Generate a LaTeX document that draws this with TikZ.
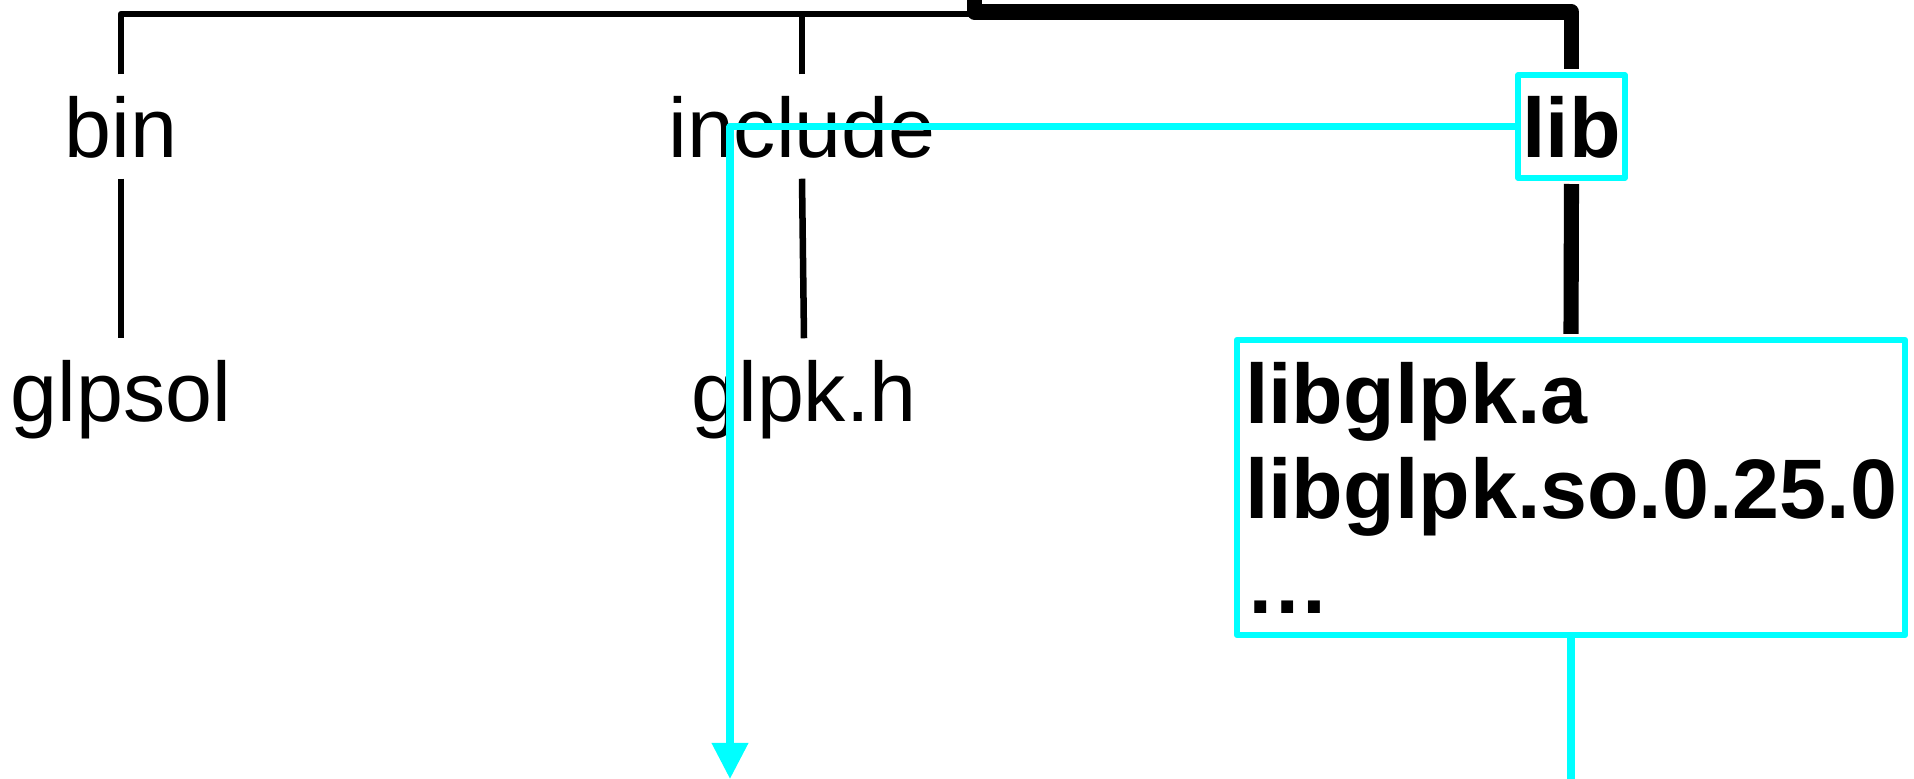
\documentclass[tikz,border=0pt]{standalone}
\usepackage{fontspec}
\setmainfont{Liberation Sans}
\usepackage{tikz}
\usetikzlibrary{arrows.meta}
\definecolor{linkcyan}{RGB}{0,255,255}

\begin{document}
\begin{tikzpicture}[x=.01cm,y=-.01cm,line join=round,
    dirname/.style={font=\fontsize{24}{27}\selectfont,text height=.61cm,
      text depth=0pt,inner xsep=.04cm,inner ysep=.21cm},
    dirbox/.style={dirname,draw=linkcyan,line width=1.7pt,font=\fontsize{24}{27}\selectfont\bfseries},
    filebox/.style={draw=linkcyan,line width=1.7pt,align=left,inner sep=0pt,
      font=\fontsize{24}{27}\selectfont\bfseries,minimum width=6.68cm,minimum height=2.95cm},
    branch/.style={line width=1.85pt},
    mainbranch/.style={line width=4.3pt},
    linkline/.style={linkcyan,line width=2pt}]
  \useasboundingbox (0,0) rectangle (1914,779);

  \node[dirname] (bin) at (121,126.5) {bin};
  \node[dirname] (include) at (802,126.5) {include};
  \node[dirbox] (lib) at (1571.5,126.5) {lib};
  \node[dirname] (glpsol) at (121,390.5) {glpsol};
  \node[dirname] (glpkh) at (804,390.5) {glpk.h};
  \node[filebox] (libfiles) at (1571,487.5)
    {libglpk.a\\libglpk.so.0.25.0\\…};

  \coordinate (root) at (974.5,-10);
  \coordinate (fork) at (974.5,14);
  \coordinate (incout) at (730,779);

  \draw[branch] (bin.north) |- (fork);
  \draw[branch] (include.north) -- (include.north |- fork);
  \draw[mainbranch,shorten >=.85pt] (root) -- ++(0,22) -| (lib.north);
  \draw[branch] (bin.south) -- (glpsol.north);
  \draw[branch] (include.south) -- (glpkh.north);
  \draw[mainbranch,shorten <=.85pt,shorten >=.85pt] (lib.south) -- (libfiles.north);

  \draw[linkline,-{Triangle[length=.36cm,width=.35cm]}] (lib.west) -| (incout);
  \draw[linkline] (libfiles.south) -- (libfiles.south |- incout);
\end{tikzpicture}
\end{document}
